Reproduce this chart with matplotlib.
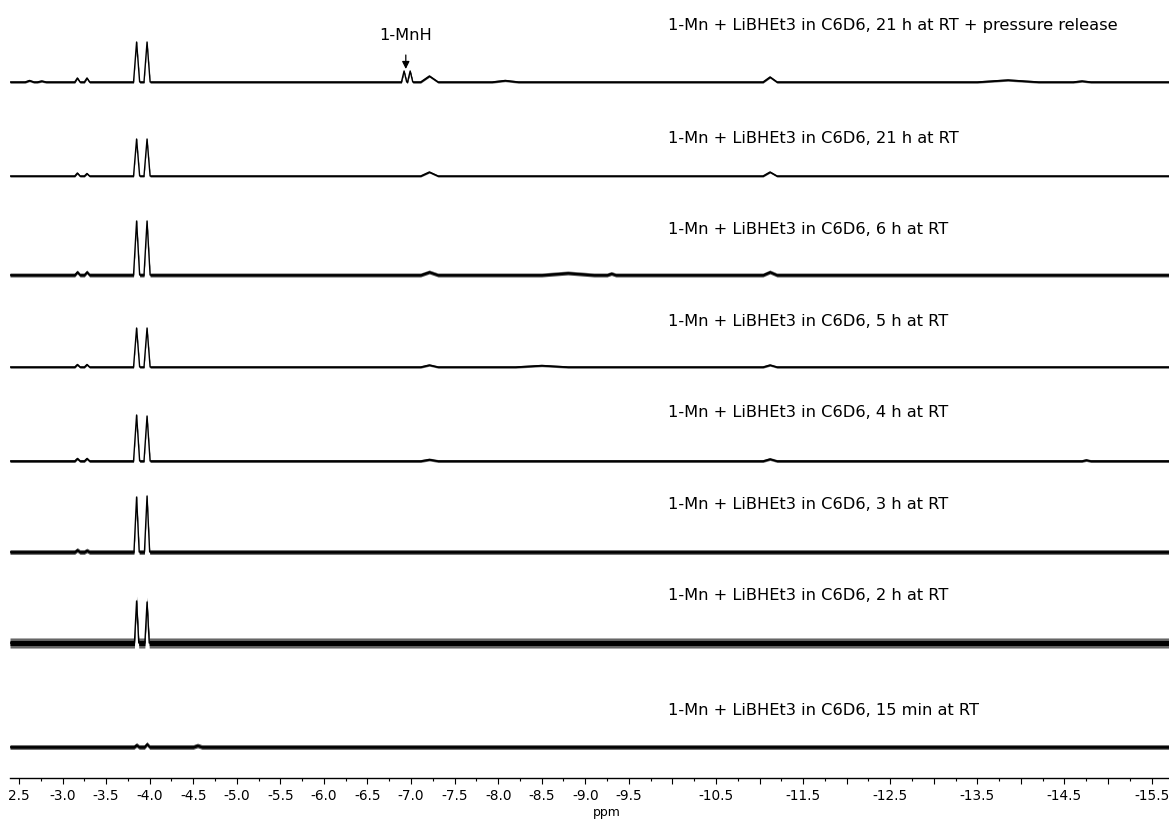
import numpy as np
import matplotlib.pyplot as plt
from matplotlib.ticker import FixedLocator, MultipleLocator

# trace labels, top to bottom
labels = [
    "1-Mn + LiBHEt3 in C6D6, 21 h at RT + pressure release",
    "1-Mn + LiBHEt3 in C6D6, 21 h at RT",
    "1-Mn + LiBHEt3 in C6D6, 6 h at RT",
    "1-Mn + LiBHEt3 in C6D6, 5 h at RT",
    "1-Mn + LiBHEt3 in C6D6, 4 h at RT",
    "1-Mn + LiBHEt3 in C6D6, 3 h at RT",
    "1-Mn + LiBHEt3 in C6D6, 2 h at RT",
    "1-Mn + LiBHEt3 in C6D6, 15 min at RT",
]

# peaks: (shift ppm, height, half width ppm)
pk_21h_pr = [(-2.62, 1.5, 0.05), (-2.76, 1.0, 0.05), (-3.17, 4, 0.03), (-3.28, 4, 0.03),
             (-3.85, 40, 0.035), (-3.97, 40, 0.035), (-6.92, 11, 0.03), (-6.99, 11, 0.03),
             (-7.21, 6, 0.1), (-8.08, 1.5, 0.15), (-11.12, 5, 0.08),
             (-13.85, 2, 0.35), (-14.7, 1, 0.1)]
pk_21h = [(-3.17, 3, 0.03), (-3.28, 2.5, 0.03), (-3.85, 37, 0.035), (-3.97, 37, 0.035),
          (-7.21, 4, 0.1), (-11.12, 4, 0.08)]
pk_6h = [(-3.17, 3, 0.03), (-3.28, 3, 0.03), (-3.85, 54, 0.035), (-3.97, 54, 0.035),
         (-7.21, 3, 0.1), (-8.8, 2, 0.3), (-9.3, 1.5, 0.05), (-11.12, 3, 0.08)]
pk_5h = [(-3.17, 2.5, 0.03), (-3.28, 2.5, 0.03), (-3.85, 39, 0.035), (-3.97, 39, 0.035),
         (-7.21, 2, 0.1), (-8.5, 1.5, 0.3), (-11.12, 2, 0.08)]
pk_4h = [(-3.17, 2.5, 0.03), (-3.28, 2.5, 0.03), (-3.85, 46, 0.035), (-3.97, 45, 0.035),
         (-7.21, 1.5, 0.1), (-11.12, 2, 0.08), (-14.75, 1, 0.05)]
pk_3h = [(-3.17, 2, 0.03), (-3.28, 1.5, 0.03), (-3.85, 55, 0.03), (-3.97, 56, 0.03)]
pk_2h = [(-3.85, 42, 0.025), (-3.97, 41, 0.025)]
pk_15min = [(-3.85, 2, 0.03), (-3.97, 3, 0.03), (-4.55, 1.5, 0.05)]

peak_lists = [pk_21h_pr, pk_21h, pk_6h, pk_5h, pk_4h, pk_3h, pk_2h, pk_15min]
noise = [1.0, 0.9, 1.7, 1.0, 1.2, 2.0, 4.2, 2.0]

major_ticks = np.arange(-2.5, -15.51, -0.5)
tick_text = ["2.5", "-3.0", "-3.5", "-4.0", "-4.5", "-5.0", "-5.5", "-6.0", "-6.5",
             "-7.0", "-7.5", "-8.0", "-8.5", "-9.0", "-9.5", "", "-10.5", "", "-11.5",
             "", "-12.5", "", "-13.5", "", "-14.5", "", "-15.5"]

# layout (pixel rows from top of image)
base_rows = [82, 176, 275, 367, 461, 552, 643, 747]
label_rows = [25, 138, 229, 321, 412, 504, 595, 710]
axis_row = 778
x_left, x_right = -2.397, -15.70


def trace_xy(peaks):
    xs, ys = [x_left], [0.0]
    for c, h, w in sorted(peaks, reverse=True):
        xs += [c + w, c, c - w]
        ys += [0.0, h, 0.0]
    xs.append(x_right)
    ys.append(0.0)
    return np.array(xs), np.array(ys)


fig = plt.figure(figsize=(11.69, 8.21), dpi=100)
ax = fig.add_axes([10 / 1169, (821 - axis_row) / 821, 1159 / 1169, axis_row / 821])
ax.set_xlim(x_left, x_right)
ax.set_ylim(0, axis_row)

for peaks, a, row, lab, lrow in zip(peak_lists, noise, base_rows, labels, label_rows):
    xs, ys = trace_xy(peaks)
    ys = ys + (axis_row - row)
    ax.fill_between(xs, ys - a * 1.2, ys + a * 1.2, color="black", alpha=0.6, lw=0)
    ax.fill_between(xs, ys - a * 0.6, ys + a * 0.6, color="black", alpha=1.0, lw=0)
    ax.plot(xs, ys, color="black", lw=1.0)
    ax.text(-9.947, axis_row - lrow, lab, fontsize=11.7, ha="left", va="center")

ax.annotate("1-MnH", xy=(-6.94, axis_row - 69), xytext=(-6.94, axis_row - 35),
            fontsize=11.7, ha="center", va="center",
            arrowprops=dict(arrowstyle="-|>", color="black", lw=0.9,
                            mutation_scale=11, shrinkA=7, shrinkB=0))

for s in ["top", "left", "right"]:
    ax.spines[s].set_visible(False)
ax.spines["bottom"].set_linewidth(1.0)
ax.set_yticks([])
ax.xaxis.set_major_locator(FixedLocator(major_ticks))
ax.xaxis.set_minor_locator(MultipleLocator(0.25))
ax.set_xticklabels(tick_text)
ax.tick_params(axis="x", which="major", length=4.3, width=0.8, labelsize=9.8, pad=3.5)
ax.tick_params(axis="x", which="minor", length=2.2, width=0.8)
ax.text(-9.25, -34, "ppm", fontsize=9, ha="center", va="center", clip_on=False)

fig.savefig("out.png", dpi=100)
